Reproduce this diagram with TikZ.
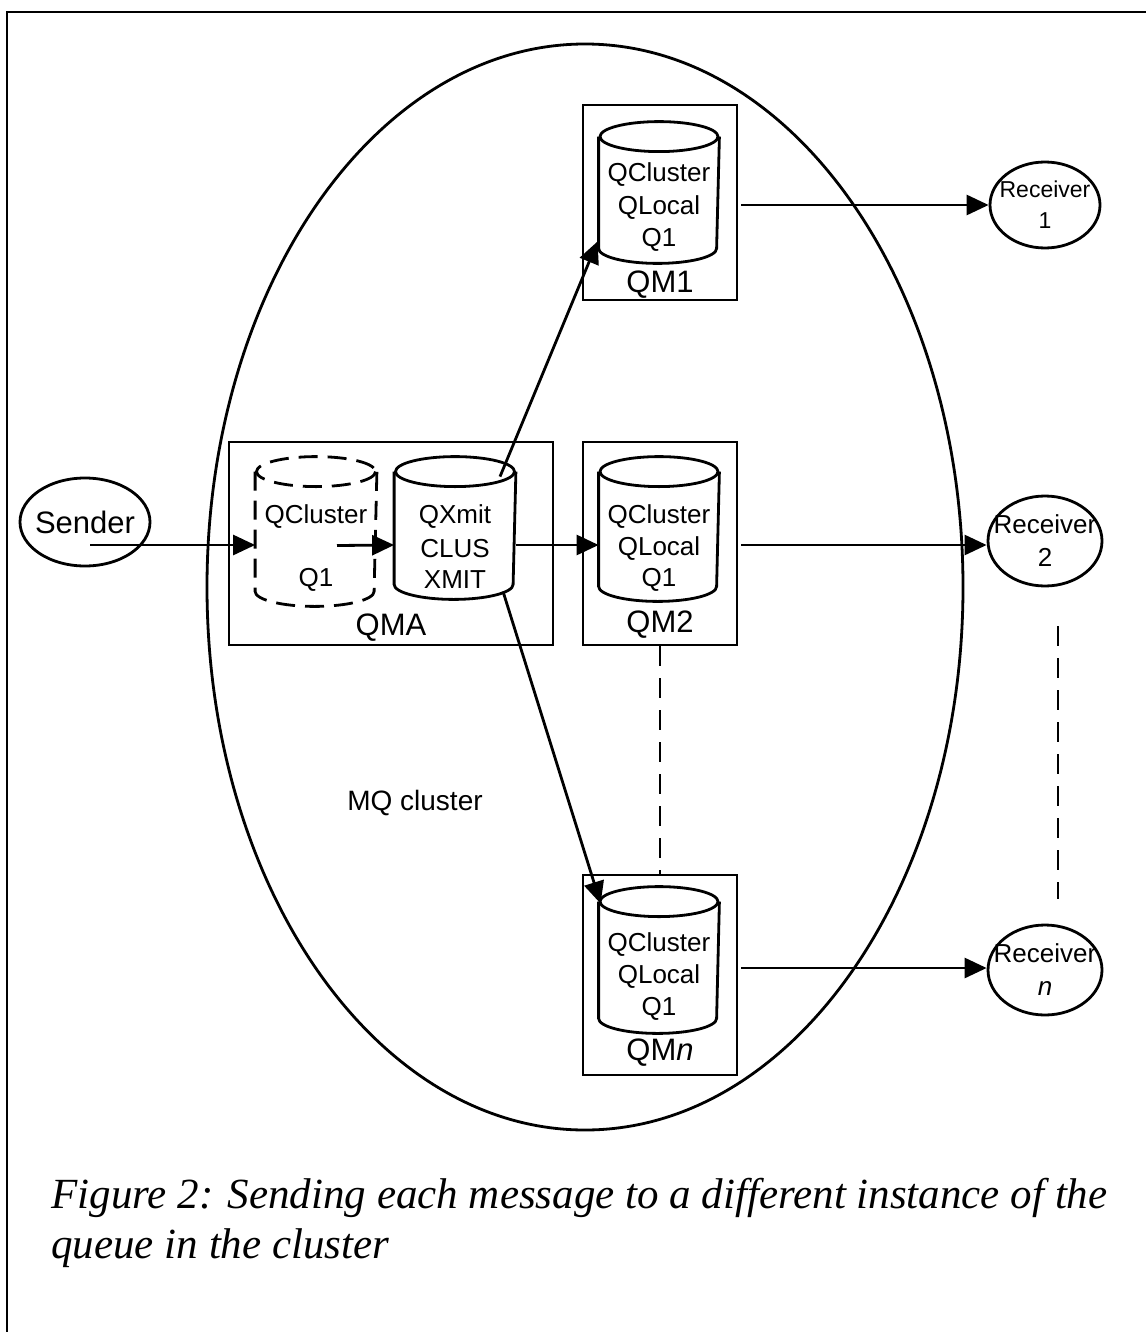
\documentclass[tikz,border=0pt]{standalone}
\usepackage{fontspec}
\setmainfont{Liberation Sans}
\newfontfamily\capfont{Liberation Serif}
\usetikzlibrary{arrows.meta,shapes.geometric,calc}

% cylinder: #1 name, #2 centre x, #3 top of cap, #4 lowest point, #5 width, #6 line style
\newcommand\drawcyl[6]{%
  \node[inner sep=0pt, minimum width=#5pt, minimum height={#4-#3}] (#1) at (#2,{(#3+#4)/2}) {};
  \draw[#6] ($(#1.north)+(0,15)$) ellipse [x radius=#5/2, y radius=15];
  \draw[#6] ($(#1.north west)+(0,15)$) -- ($(#1.south west)+(0,-15)$)
            arc [start angle=180, end angle=0, x radius=#5/2, y radius=15]
            -- ($(#1.north east)+(0,15)$);
}

\begin{document}
\begin{tikzpicture}[x=1pt, y=-1pt, line width=2.8pt,
  arr/.style={-{Triangle[length=22pt,width=20pt]}},
  qbox/.style={draw, line width=2.8pt, inner sep=0pt},
  txt/.style={inner sep=0pt, font=\fontsize{26}{28}\selectfont},
  boxlbl/.style={inner sep=0pt, font=\fontsize{31}{34}\selectfont},
  oval/.style={draw, ellipse, inner sep=0pt},
  ovaltxt/.style={inner sep=0pt, align=center},
  dashcyl/.style={dash pattern=on 19pt off 10pt},
  link/.style={dash pattern=on 20pt off 12pt}]

\useasboundingbox (0,0) rectangle (1146,1332);

% page frame
\draw[line width=1.8pt] (7,1332) -- (7,12) -- (1146,12);

% cluster region
\draw (585,587) ellipse [x radius=378, y radius=543];
\node[txt, font=\fontsize{28}{30}\selectfont] (mq) at (415,803) {MQ cluster};

% queue managers
\node[qbox, minimum width=154pt, minimum height=195pt] (qm1b) at (660,202.5) {};
\node[qbox, minimum width=154pt, minimum height=203pt] (qm2b) at (660,543.5) {};
\node[qbox, minimum width=154pt, minimum height=200pt] (qmnb) at (660,975) {};
\node[qbox, minimum width=324pt, minimum height=203pt] (qmab) at (391,543.5) {};

\drawcyl{q1c}{659}{123}{262}{118}{}
\drawcyl{q2c}{659}{458}{600}{118}{}
\drawcyl{qnc}{659}{888}{1032}{118}{}
\drawcyl{qcd}{316}{458}{605}{119}{dashcyl}
\drawcyl{qx}{455}{458}{598}{119}{}

\node[txt] at (659,175) {QCluster};
\node[txt] at (659,208) {QLocal};
\node[txt] at (659,240) {Q1};
\node[boxlbl] at (660,285) {QM1};

\node[txt] at (659,517) {QCluster};
\node[txt] at (659,549) {QLocal};
\node[txt] at (659,580) {Q1};
\node[boxlbl] at (660,625) {QM2};

\node[txt] at (659,945) {QCluster};
\node[txt] at (659,977) {QLocal};
\node[txt] at (659,1009) {Q1};
\node[boxlbl] at (660,1053) {QM\textit{n}};

\node[txt, fill=white, inner sep=1pt] at (316,517) {QCluster};
\node[txt] at (316,580) {Q1};
\node[txt] at (455,517) {QXmit};
\node[txt] at (455,549) {CLUS};
\node[txt] at (455,580) {XMIT};
\node[boxlbl] at (391,628) {QMA};

% sender and receivers
\node[oval, minimum width=130pt, minimum height=88pt] (snd) at (85,522) {};
\node[ovaltxt, font=\fontsize{31}{34}\selectfont] at (snd) {Sender};
\node[oval, minimum width=110pt, minimum height=86pt] (r1) at (1045,205) {};
\node[ovaltxt, font=\fontsize{23}{31}\selectfont] at (r1) {Receiver\\1};
\node[oval, minimum width=114pt, minimum height=90pt] (r2) at (1045,541) {};
\node[ovaltxt, font=\fontsize{26}{33}\selectfont] at (r2) {Receiver\\2};
\node[oval, minimum width=114pt, minimum height=90pt] (rn) at (1045,970) {};
\node[ovaltxt, font=\fontsize{26}{33}\selectfont] at (rn) {Receiver\\\textit{n}};

% message flow
\draw[arr] ($(snd.center)+(5,23)$) -- (qcd.west |- 0,545);
\draw[arr] ($(qcd.center)+(21,14)$) -- (qx.west |- 0,545);
\draw[arr] (qx.east |- 0,545) -- (q2c.west |- 0,545);
\draw[arr] ($(qx.north)+(45,20)$) -- ($(q1c.south west)+(-1,-22)$);
\draw[arr] ($(qx.south)+(48,-8)$) -- ($(qnc.north west)+(2,17)$);

\draw[arr] ([xshift=3pt]qm1b.east |- r1.west) -- (r1.west);
\draw[arr] ([xshift=3pt]qm2b.east |- 0,545) -- (r2.west |- 0,545);
\draw[arr] ([xshift=3pt]qmnb.east |- 0,968) -- (rn.west |- 0,968);

% further instances
\draw[link] (qm2b.south) -- (qmnb.north);
\draw[link] ($(r2.south)+(13,39)$) -- ($(rn.north)+(13,-25)$);

% caption
\node[anchor=base west, inner sep=0pt, font=\capfont\itshape\fontsize{43}{50}\selectfont] (cap1) at (50,1208) {Figure 2: Sending each message to a different instance of the};
\node[anchor=base west, inner sep=0pt, font=\capfont\itshape\fontsize{43}{50}\selectfont] (cap2) at (50,1258) {queue in the cluster};
\end{tikzpicture}
\end{document}
